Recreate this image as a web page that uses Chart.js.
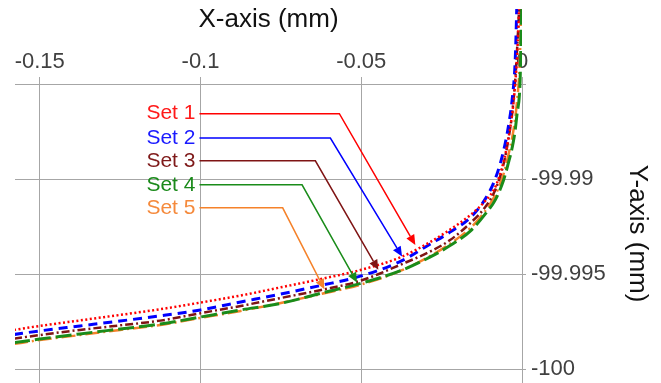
<!DOCTYPE html>
<html>
<head>
<meta charset="utf-8">
<script src="https://cdn.jsdelivr.net/npm/chart.js@4.4.1/dist/chart.umd.min.js"></script>
<style>
  html, body { margin: 0; padding: 0; background: #fff; }
  #wrap { width: 661px; height: 383px; }
</style>
</head>
<body>
<div id="wrap"><canvas id="chart" width="661" height="383"></canvas></div>
<script>
// ---- data (mm) ----
const xValues = [-0.158, -0.15, -0.1375, -0.125, -0.1125, -0.1, -0.0875, -0.075, -0.0625, -0.05, -0.0375,
  -0.0285, -0.0225, -0.016, -0.0114, -0.0083, -0.0058, -0.0043, -0.003, -0.0021, -0.0015, -0.0008, -0.0005, -0.0002];

const set1 = [-99.99793, -99.99772, -99.99743, -99.99714, -99.99684, -99.99649, -99.99612, -99.99569, -99.99525, -99.99477, -99.99409,
  -99.9933, -99.99267, -99.99188, -99.99114, -99.99041, -99.98914, -99.98793, -99.98651, -99.98498, -99.98346, -99.98056, -99.97925, -99.9774];
const set2 = [-99.99817, -99.99798, -99.99772, -99.99746, -99.99719, -99.99688, -99.99646, -99.99604, -99.99559, -99.99509, -99.9943,
  -99.99341, -99.9928, -99.99201, -99.99104, -99.98998, -99.98856, -99.9873, -99.98572, -99.98372, -99.9803, -99.97688, -99.97477, -99.97267];
const set3 = [-99.99839, -99.9982, -99.99793, -99.99769, -99.99744, -99.99705, -99.99667, -99.99625, -99.99583, -99.99533, -99.99448,
  -99.9938, -99.99322, -99.9923, -99.99146, -99.99056, -99.98925, -99.98798, -99.98646, -99.98477, -99.98309, -99.98067, -99.97925, -99.9774];
const set4 = [-99.9986, -99.99841, -99.99814, -99.99788, -99.99762, -99.99725, -99.99688, -99.99653, -99.996, -99.99547, -99.9948,
  -99.99409, -99.99351, -99.99272, -99.99183, -99.99109, -99.99009, -99.98919, -99.9883, -99.9874, -99.98651, -99.98556, -99.98425, -99.98104];
const set5 = [-99.99867, -99.99846, -99.9982, -99.99793, -99.99767, -99.9973, -99.99693, -99.99651, -99.99604, -99.99554, -99.9948,
  -99.99404, -99.99341, -99.99256, -99.99167, -99.99083, -99.98977, -99.98877, -99.98777, -99.98677, -99.98583, -99.98425, -99.98267, -99.98004];

const seriesNames = ["Set 1", "Set 2", "Set 3", "Set 4", "Set 5"];
const xTicks = [-0.15, -0.1, -0.05, 0];
const yTicks = [-100, -99.995, -99.99, -99.985];

// callouts: label anchor, elbow x, arrow tip (data units)
const labelX = -0.11682;
const labelY = [-99.98656, -99.98784, -99.98904, -99.9903, -99.99151];
const elbowX = [-0.05681, -0.05961, -0.06427, -0.06841, -0.07444];
const tipX = [-0.03318, -0.03731, -0.04468, -0.05131, -0.06147];
const tipY = [-99.99346, -99.99407, -99.99477, -99.99544, -99.99579];

const FONT = "'Liberation Sans', Arial, sans-serif";
const colors = ["#ff0000", "#0000ff", "#7f1414", "#1a8c1a", "#f5822a"];
const textColors = ["#ff1a1a", "#1a1aff", "#7f1a1a", "#1a8a1a", "#f58a3c"];
const dashes = [[2, 2.5], [9, 6], [8, 3, 2, 3], [16, 5], [14, 4, 2, 4]];
const widths = [2.5, 3, 2.5, 3, 2.5];

const allSets = [set1, set2, set3, set4, set5];
const datasets = allSets.map((ys, i) => ({
  label: seriesNames[i],
  data: ys.map((y, k) => ({ x: xValues[k], y: y })),
  borderColor: colors[i],
  borderWidth: widths[i],
  borderDash: dashes[i],
  pointRadius: 0,
  fill: false,
  cubicInterpolationMode: "monotone",
  // curves run up past the top axis line, cut a little below the picture edge
  clip: { left: 0, top: 75, right: 0, bottom: 0 }
}));

const callouts = {
  id: "callouts",
  afterDatasetsDraw(chart) {
    const { ctx, scales: { x, y } } = chart;
    ctx.save();
    ctx.font = "21px " + FONT;
    ctx.textBaseline = "middle";
    ctx.textAlign = "left";
    seriesNames.forEach((name, i) => {
      const lx = x.getPixelForValue(labelX);
      const ly = y.getPixelForValue(labelY[i]);
      ctx.fillStyle = textColors[i];
      ctx.fillText(name, lx, ly);
      const sx = lx + ctx.measureText(name).width + 4;
      const ex = x.getPixelForValue(elbowX[i]);
      const tx = x.getPixelForValue(tipX[i]);
      const ty = y.getPixelForValue(tipY[i]);
      const ang = Math.atan2(ty - ly, tx - ex);
      const len = 10, hw = 4.5;
      const bx = tx - len * Math.cos(ang), by = ty - len * Math.sin(ang);
      ctx.strokeStyle = colors[i];
      ctx.lineWidth = 1.5;
      ctx.beginPath();
      ctx.moveTo(sx, ly);
      ctx.lineTo(ex, ly);
      ctx.lineTo(bx, by);
      ctx.stroke();
      ctx.fillStyle = colors[i];
      ctx.beginPath();
      ctx.moveTo(tx, ty);
      ctx.lineTo(bx + hw * Math.sin(ang), by - hw * Math.cos(ang));
      ctx.lineTo(bx - hw * Math.sin(ang), by + hw * Math.cos(ang));
      ctx.closePath();
      ctx.fill();
    });
    ctx.restore();
  }
};

new Chart(document.getElementById("chart"), {
  type: "line",
  data: { datasets },
  options: {
    responsive: false,
    animation: false,
    devicePixelRatio: 1,
    layout: { padding: { left: 15, top: 0, right: 0, bottom: 0 } },
    plugins: { legend: { display: false }, tooltip: { enabled: false } },
    scales: {
      x: {
        type: "linear",
        position: "top",
        min: -0.1577,
        max: 0,
        afterBuildTicks: (s) => { s.ticks = xTicks.map(v => ({ value: v })); },
        afterFit: (s) => { s.height = 84; s.paddingLeft = 0; s.paddingRight = 0; },
        grid: { color: "#a6a6a6", lineWidth: 1, tickLength: 7, drawTicks: true },
        border: { color: "#a6a6a6", width: 1 },
        ticks: {
          color: "#404040",
          font: { family: FONT, size: 22 },
          padding: 2,
          maxRotation: 0,
          callback: (v) => String(v)
        },
        title: {
          display: true,
          text: "X-axis (mm)",
          color: "#111",
          font: { family: FONT, size: 26, lineHeight: 1 },
          padding: { top: 7, bottom: 0 }
        }
      },
      y: {
        type: "linear",
        position: "right",
        min: -100.00072,
        max: -99.985,
        afterBuildTicks: (s) => { s.ticks = yTicks.map(v => ({ value: v })); },
        afterFit: (s) => { s.width = 139; s.paddingTop = 0; s.paddingBottom = 0; },
        grid: { color: "#a6a6a6", lineWidth: 1, tickLength: 4, drawTicks: true },
        border: { color: "#a6a6a6", width: 1 },
        ticks: {
          color: "#404040",
          font: { family: FONT, size: 22 },
          padding: 5,
          callback: (v) => (v === -99.985 ? "" : String(v))
        },
        title: {
          display: true,
          text: "Y-axis (mm)",
          color: "#111",
          font: { family: FONT, size: 26, lineHeight: 1 },
          padding: { top: 11, bottom: 0 }
        }
      }
    }
  },
  plugins: [callouts]
});
</script>
</body>
</html>
